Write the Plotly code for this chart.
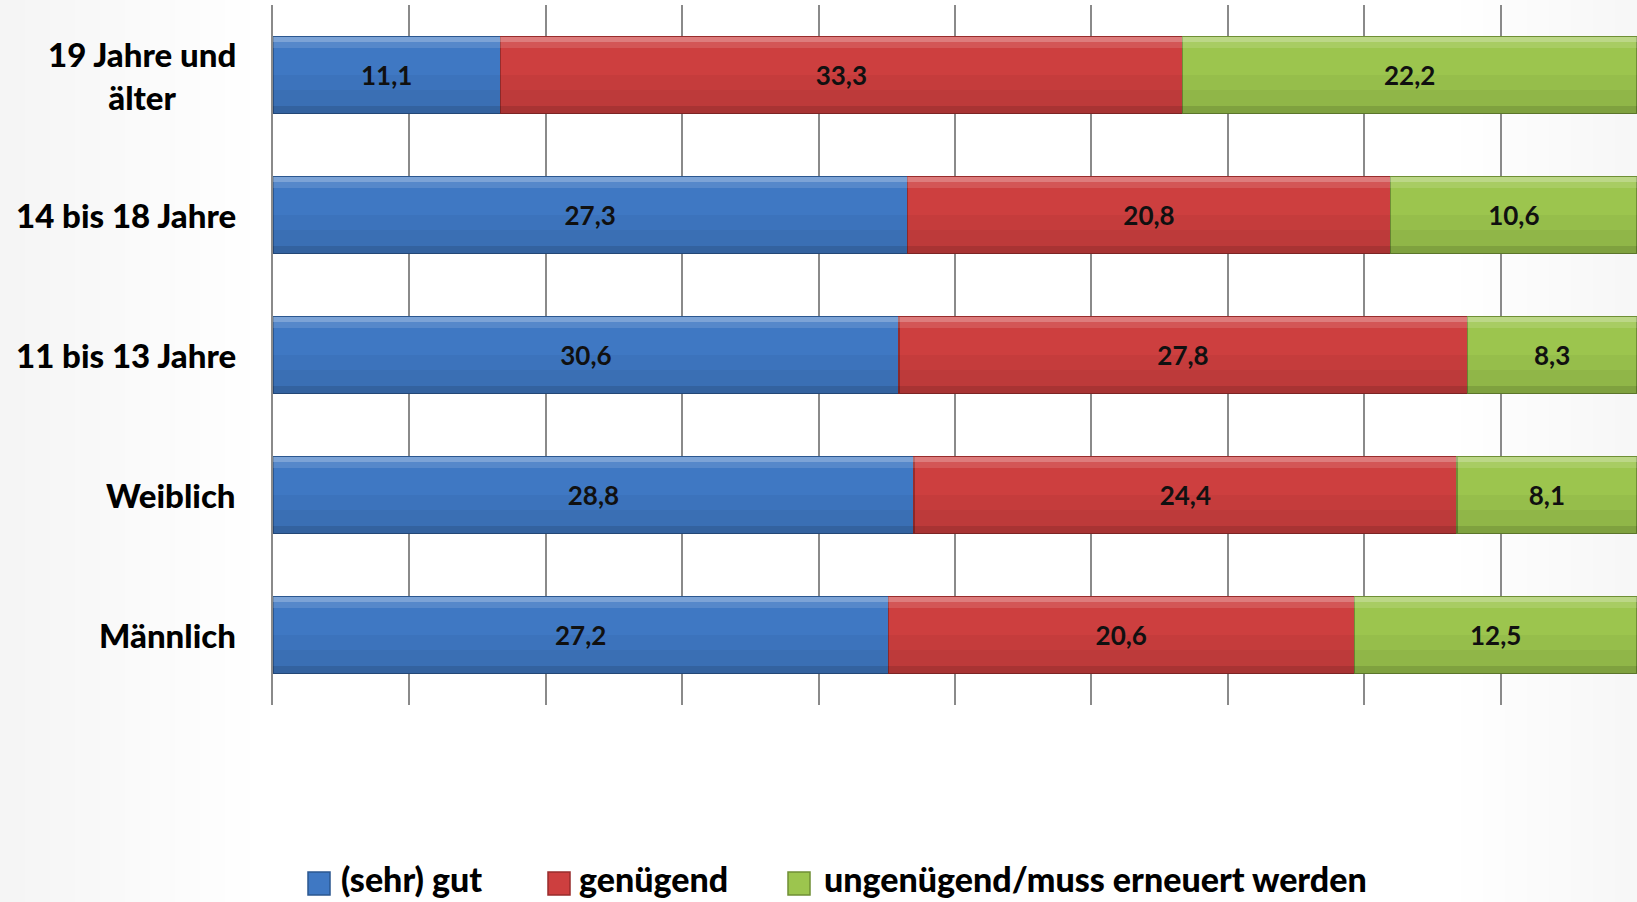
import plotly.graph_objects as go

# Survey groups (bottom to top as drawn) and shares per rating
groups = ["Männlich", "Weiblich", "11 bis 13 Jahre", "14 bis 18 Jahre", "19 Jahre und<br>älter"]
sehr_gut = [27.2, 28.8, 30.6, 27.3, 11.1]
genuegend = [20.6, 24.4, 27.8, 20.8, 33.3]
ungenuegend = [12.5, 8.1, 8.3, 10.6, 22.2]

series_names = ["(sehr) gut", "genügend", "ungenügend/muss erneuert werden"]
series_values = [sehr_gut, genuegend, ungenuegend]
fill_colors = ["#3f78c3", "#cd3f3f", "#9cc54e"]
edge_colors = ["#2b5790", "#982c2c", "#6f8f35"]

FONT = "Lato, 'Open Sans', sans-serif"

# Figure geometry (pixels)
W, H = 1637, 902
ML, MR, MT, MB = 273, 0, 5, 197
PW, PH = W - ML - MR, H - MT - MB


def px_x(px):
    return (px - ML) / PW


def px_y(py):
    return (H - MB - py) / PH


def de(v):
    return f"{v:.1f}".replace(".", ",")


fig = go.Figure()

# Main stacked bars with value labels
for name, vals, color, edge in zip(series_names, series_values, fill_colors, edge_colors):
    fig.add_trace(go.Bar(
        name=name, y=groups, x=vals, orientation="h",
        marker=dict(color=color, line=dict(color=edge, width=1.5)),
        text=[de(v) for v in vals], texttemplate="%{text}",
        textposition="inside", insidetextanchor="middle", textangle=0,
        textfont=dict(family=FONT, size=26, color="#111111", weight="bold"),
        hoverinfo="skip", showlegend=False, yaxis="y",
    ))

# Bevel shading bands across each bar (offset/width in category units)
bands = [
    ("y2", 0.238, 0.035, "rgba(255,255,255,0.32)"),
    ("y3", 0.195, 0.043, "rgba(255,255,255,0.12)"),
    ("y4", -0.105, 0.105, "rgba(0,0,0,0.035)"),
    ("y5", -0.222, 0.117, "rgba(0,0,0,0.075)"),
    ("y6", -0.275, 0.053, "rgba(0,0,0,0.18)"),
]
for axis, offset, width, shade in bands:
    for vals in series_values:
        fig.add_trace(go.Bar(
            y=groups, x=vals, orientation="h", yaxis=axis,
            offset=offset, width=width,
            marker=dict(color=shade, line=dict(width=0)),
            hoverinfo="skip", showlegend=False,
        ))

# Category labels as centred multi-line annotations
for g in groups:
    fig.add_annotation(
        x=0, xref="paper", y=g, yref="y",
        text=g, showarrow=False,
        xanchor="right", xshift=-35, align="center",
        font=dict(family=FONT, size=33, color="#000000", weight=900),
    )

# Soft grey vignette towards the left and right edges
shapes = []
left_edge = px_x(0)
for k in range(10):
    shapes.append(dict(
        type="rect", xref="paper", yref="paper", layer="below",
        x0=left_edge, x1=px_x(25 * (k + 1)), y0=px_y(H), y1=px_y(0),
        fillcolor="rgba(0,0,0,0.005)", line=dict(width=0),
    ))
for k in range(8):
    shapes.append(dict(
        type="rect", xref="paper", yref="paper", layer="below",
        x0=px_x(W - 22 * (k + 1)), x1=px_x(W), y0=px_y(H), y1=px_y(0),
        fillcolor="rgba(0,0,0,0.005)", line=dict(width=0),
    ))

# Legend: coloured keys with bold labels
legend_items = [(308, 339), (548, 577), (788, 822)]
for (kx, tx), name, color, edge in zip(legend_items, series_names, fill_colors, edge_colors):
    shapes.append(dict(
        type="rect", xref="paper", yref="paper",
        x0=px_x(kx), x1=px_x(kx + 22), y0=px_y(895), y1=px_y(872),
        fillcolor=color, line=dict(color=edge, width=1.5),
    ))
    fig.add_annotation(
        x=px_x(tx), xref="paper", y=px_y(878), yref="paper",
        text=name, showarrow=False, xanchor="left", yanchor="middle",
        font=dict(family=FONT, size=34, color="#000000", weight=900),
    )

hidden_y = dict(overlaying="y", matches="y", visible=False, showgrid=False)
fig.update_layout(
    width=W, height=H,
    barmode="stack", barnorm="percent", bargap=0.45,
    paper_bgcolor="#ffffff", plot_bgcolor="rgba(0,0,0,0)",
    margin=dict(l=ML, r=MR, t=MT, b=MB),
    showlegend=False,
    shapes=shapes,
    xaxis=dict(
        range=[0, 100], dtick=10, showticklabels=False,
        showgrid=True, gridcolor="#8a8a8a", gridwidth=1.5,
        zeroline=False, showline=False, fixedrange=True,
    ),
    yaxis=dict(
        showticklabels=False, showgrid=False, zeroline=False,
        showline=True, linecolor="#8a8a8a", linewidth=1.5,
        range=[-0.5, 4.5],
    ),
    yaxis2=hidden_y, yaxis3=hidden_y, yaxis4=hidden_y,
    yaxis5=hidden_y, yaxis6=hidden_y,
)

fig.write_html("out.html")
